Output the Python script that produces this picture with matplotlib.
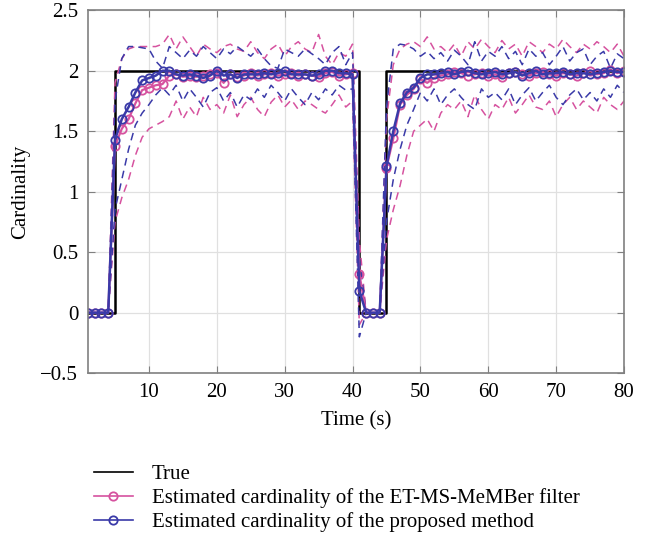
import matplotlib
matplotlib.use('Agg')
import matplotlib.pyplot as plt

plt.rcParams['font.family'] = ['Liberation Serif', 'DejaVu Serif']
plt.rcParams['axes.unicode_minus'] = True

# tempo (s)
tempo = list(range(1, 81))

# cardinalidade verdadeira (muda nos instantes indicados)
t_true = [1, 5, 41, 45, 80]
n_true = [0, 2, 0, 2, 2]

# ET-MS-MeMBer: media, limite superior e inferior
mem_media = [0, 0, 0, 0,
             1.38, 1.52, 1.60, 1.73, 1.84, 1.86, 1.88, 1.89,
             1.96, 1.97, 1.95, 1.96, 1.95, 1.96, 1.97, 1.98, 1.90, 1.97,
             1.95, 1.96, 1.98, 1.96, 1.97, 1.98, 1.96, 1.97, 1.98, 1.96,
             1.97, 1.96, 1.95, 1.98, 1.99, 1.96, 1.97, 1.98,
             0.32, 0, 0, 0,
             1.20, 1.44, 1.72, 1.80, 1.85, 1.93, 1.90, 1.94, 1.96, 1.97,
             1.99, 1.98, 1.96, 1.97, 1.98, 1.96, 1.97, 1.95, 1.98, 1.99,
             1.97, 1.96, 1.98, 1.99, 1.97, 1.96, 1.98, 1.97, 1.96, 1.98,
             2.00, 1.97, 1.98, 2.01, 1.98, 2.00]
mem_sup = [0, 0, 0, 0,
           1.90, 2.10, 2.18, 2.20, 2.20, 2.20, 2.20, 2.22, 2.30, 2.18,
           2.28, 2.20, 2.12, 2.22, 2.18, 2.15, 2.20, 2.22, 2.18, 2.16,
           2.24, 2.15, 2.10, 2.18, 2.22, 2.12, 2.20, 2.24, 2.18, 2.15,
           2.30, 2.12, 2.05, 2.15, 2.12, 2.22,
           0.60, 0, 0, 0,
           1.60, 2.05, 2.18, 2.22, 2.24, 2.20, 2.28, 2.18, 2.20, 2.15,
           2.22, 2.12, 2.24, 2.18, 2.26, 2.20, 2.15, 2.25, 2.18, 2.22,
           2.12, 2.24, 2.20, 2.15, 2.22, 2.18, 2.26, 2.20, 2.15, 2.22,
           2.18, 2.24, 2.20, 2.15, 2.22, 2.12]
mem_inf = [0, 0, 0, 0,
           0.75, 0.95, 1.10, 1.30, 1.45, 1.52, 1.55, 1.58, 1.62, 1.75,
           1.60, 1.70, 1.62, 1.78, 1.68, 1.72, 1.65, 1.80, 1.62, 1.72,
           1.78, 1.68, 1.62, 1.74, 1.80, 1.70, 1.76, 1.68, 1.75, 1.72,
           1.68, 1.65, 1.72, 1.80, 1.70, 1.75,
           -0.10, 0, 0, 0,
           0.60, 0.85, 1.05, 1.30, 1.50, 1.55, 1.60, 1.50, 1.65, 1.72,
           1.68, 1.75, 1.62, 1.80, 1.68, 1.60, 1.72, 1.68, 1.78, 1.65,
           1.72, 1.80, 1.70, 1.68, 1.75, 1.62, 1.72, 1.78, 1.68, 1.75,
           1.70, 1.65, 1.78, 1.72, 1.68, 1.75]

# metodo proposto: media, limite superior e inferior
prop_media = [0, 0, 0, 0,
              1.43, 1.60, 1.70, 1.82, 1.92, 1.94, 1.96, 2.00,
              2.00, 1.97, 1.96, 1.97, 1.96, 1.94, 1.96, 2.00, 1.96, 1.97,
              1.94, 1.97, 1.97, 1.97, 1.98, 1.97, 1.98, 2.00, 1.97, 1.97,
              1.97, 1.96, 1.97, 2.00, 2.00, 1.98, 1.98, 1.97,
              0.18, 0, 0, 0,
              1.21, 1.50, 1.73, 1.82, 1.86, 1.94, 1.97, 1.97, 1.98, 1.99,
              1.97, 1.99, 2.00, 1.98, 1.97, 1.98, 1.99, 1.97, 1.98, 1.99,
              1.96, 1.98, 2.00, 1.97, 1.98, 1.98, 1.99, 1.97, 1.98, 1.98,
              1.97, 1.98, 1.99, 2.00, 1.99, 1.99]
prop_sup = [0, 0, 0, 0,
            1.75, 2.10, 2.20, 2.20, 2.19, 2.18, 2.08, 2.02, 2.20, 2.15,
            2.10, 2.17, 2.12, 2.20, 2.15, 2.10, 2.18, 2.14, 2.20, 2.16,
            2.12, 2.18, 2.10, 2.04, 2.02, 2.18, 2.15, 2.12, 2.18, 2.14,
            2.10, 2.05, 2.15, 2.20, 2.05, 2.15,
            0.45, 0, 0, 0,
            1.70, 2.18, 2.22, 2.21, 2.18, 2.12, 2.16, 2.10, 2.15, 2.08,
            2.17, 2.12, 2.05, 2.24, 2.08, 2.16, 2.12, 2.20, 2.10, 2.16,
            2.05, 2.18, 2.12, 2.15, 2.05, 2.12, 2.20, 2.08, 2.15, 2.18,
            2.05, 2.12, 2.16, 2.02, 2.14, 2.10]
prop_inf = [0, 0, 0, 0,
            0.85, 1.10, 1.35, 1.55, 1.65, 1.72, 1.80, 1.86, 1.80, 1.88,
            1.75, 1.85, 1.78, 1.70, 1.82, 1.86, 1.75, 1.82, 1.70, 1.80,
            1.76, 1.85, 1.78, 1.88, 1.82, 1.75, 1.85, 1.78, 1.72, 1.82,
            1.76, 1.85, 1.80, 1.88, 1.84, 1.85,
            -0.20, 0, 0, 0,
            0.75, 1.10, 1.35, 1.55, 1.68, 1.82, 1.75, 1.85, 1.72, 1.80,
            1.85, 1.78, 1.72, 1.68, 1.85, 1.78, 1.82, 1.76, 1.85, 1.72,
            1.80, 1.86, 1.75, 1.82, 1.88, 1.78, 1.72, 1.80, 1.85, 1.76,
            1.82, 1.75, 1.85, 1.78, 1.88, 1.82]

cor_mem = '#D6529F'
cor_prop = '#3A3AA8'

fig = plt.figure(figsize=(6.46, 5.4), dpi=100)
ax = fig.add_axes([0.136, 0.309, 0.830, 0.672])

ax.plot(t_true, n_true, color='black', lw=1.8, drawstyle='steps-post', label='True')
ax.plot(tempo, mem_sup, color=cor_mem, lw=1.1, dashes=(5, 3.5))
ax.plot(tempo, mem_inf, color=cor_mem, lw=1.1, dashes=(5, 3.5))
ax.plot(tempo, prop_sup, color=cor_prop, lw=1.1, dashes=(5, 3.5))
ax.plot(tempo, prop_inf, color=cor_prop, lw=1.1, dashes=(5, 3.5))
ax.plot(tempo, mem_media, color=cor_mem, lw=1.6, marker='o', ms=6,
        mfc='none', mew=1.3, label='Estimated cardinality of the ET-MS-MeMBer filter')
ax.plot(tempo, prop_media, color=cor_prop, lw=1.8, marker='o', ms=6,
        mfc='none', mew=1.3, label='Estimated cardinality of the proposed method')

ax.set_xlim(1, 80)
ax.set_ylim(-0.5, 2.5)
ax.set_xticks([10, 20, 30, 40, 50, 60, 70, 80])
ax.set_yticks([-0.5, 0, 0.5, 1, 1.5, 2, 2.5])
ax.set_yticklabels(['\u22120.5', '0', '0.5', '1', '1.5', '2', '2.5'])
ax.grid(True, color='#e0e0e0', lw=0.9)
ax.set_axisbelow(True)
for s in ax.spines.values():
    s.set_color('#808080')
    s.set_linewidth(1.2)
ax.tick_params(direction='in', top=True, right=True, length=5, color='#808080',
               labelsize=15, pad=7)
ax.set_xlabel('Time (s)', fontsize=15, labelpad=7)
ax.set_ylabel('Cardinality', fontsize=15, labelpad=7)

leg = fig.legend(loc='upper left', bbox_to_anchor=(0.132, 0.155), frameon=False,
                 fontsize=15, handlelength=1.9, handletextpad=0.9, labelspacing=0.2,
                 borderaxespad=0)
for h in leg.legend_handles:
    h.set_linewidth(1.2)

plt.savefig('out.png', dpi=100)
